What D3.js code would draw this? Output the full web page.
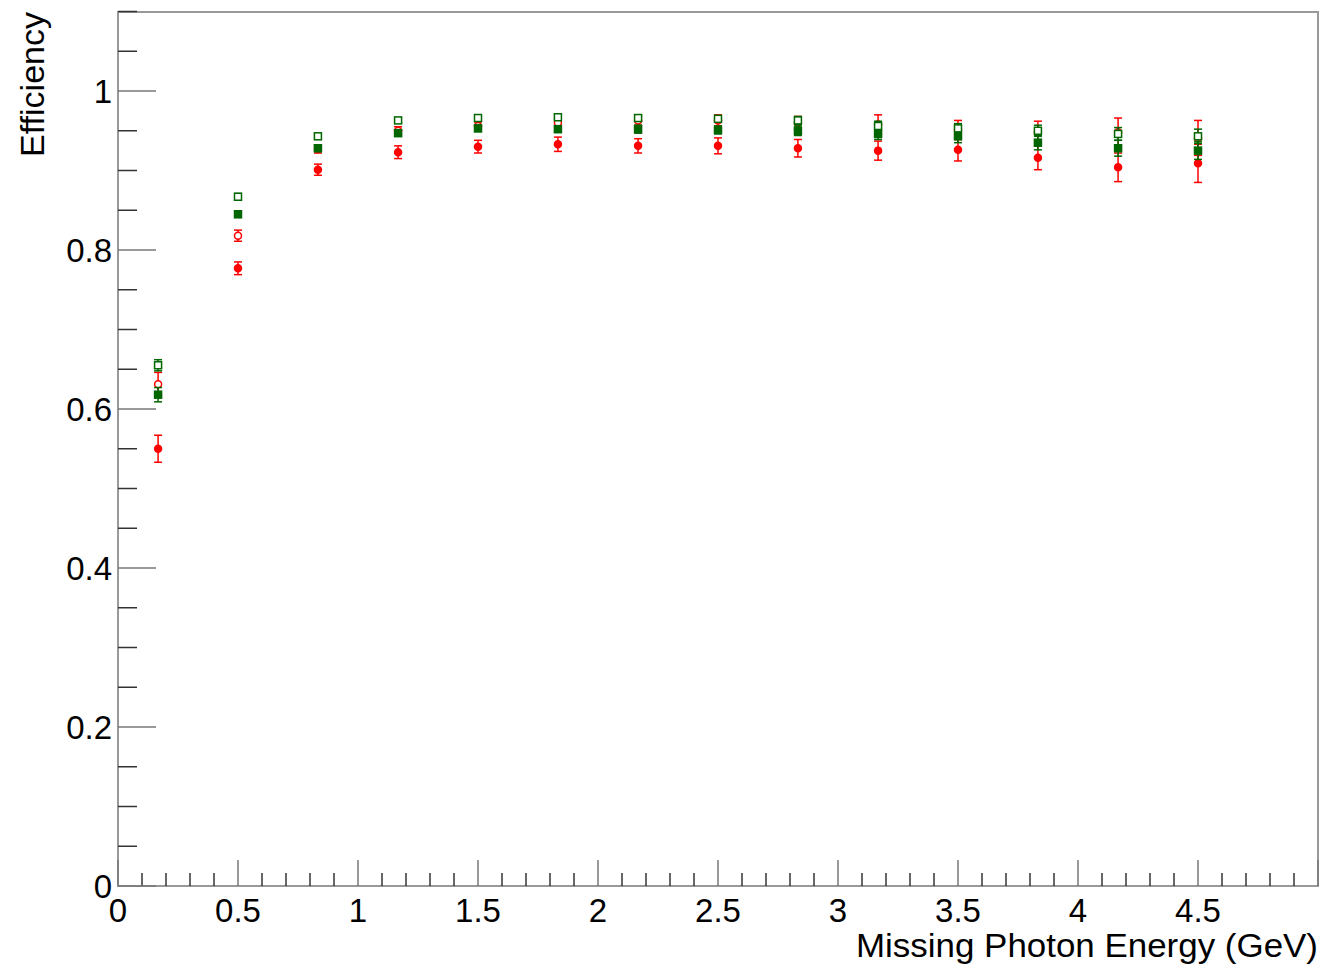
<!DOCTYPE html>
<html><head><meta charset="utf-8">
<script src="https://cdn.jsdelivr.net/npm/d3@7"></script>
<style>body{margin:0;background:#fff}text{font-family:"Liberation Sans",Arial,sans-serif}</style>
</head><body><svg id="c" width="1321" height="964"></svg>
<script>
var xs = [0.167,0.5,0.833,1.167,1.5,1.833,2.167,2.5,2.833,3.167,3.5,3.833,4.167,4.5];
var redFilled = [0.550,0.777,0.901,0.923,0.930,0.933,0.931,0.931,0.928,0.925,0.926,0.916,0.904,0.909];
var redFilledErr = [0.017,0.008,0.007,0.008,0.008,0.009,0.009,0.01,0.011,0.012,0.014,0.015,0.018,0.024];
var redOpen = [0.631,0.818,0.927,0.950,0.956,0.960,0.963,0.963,0.960,0.958,0.951,0.948,0.948,0.941];
var redOpenErr = [0.015,0.007,0.005,0.005,0.005,0.006,0.006,0.007,0.008,0.012,0.012,0.014,0.018,0.022];
var greenFilled = [0.618,0.845,0.928,0.947,0.953,0.952,0.952,0.951,0.950,0.946,0.943,0.935,0.928,0.925];
var greenFilledErr = [0.009,0.004,0.004,0.004,0.004,0.004,0.005,0.005,0.006,0.007,0.008,0.009,0.01,0.011];
var greenOpen = [0.655,0.867,0.943,0.963,0.966,0.967,0.966,0.965,0.963,0.956,0.953,0.950,0.946,0.943];
var greenOpenErr = [0.007,0.004,0.003,0.003,0.003,0.003,0.004,0.004,0.005,0.006,0.006,0.007,0.008,0.009];

var svg = d3.select('#c');
var L = 118, R = 1318, T = 12, B = 886;
var x = d3.scaleLinear().domain([0, 5]).range([L, R]);
var y = d3.scaleLinear().domain([0, 1.1]).range([B, B - 1.1 * 795]);

svg.append('rect').attr('x', L).attr('y', T).attr('width', R - L).attr('height', B - T)
  .attr('fill', 'none').attr('stroke', '#999').attr('stroke-width', 2);

var g = svg.append('g');
d3.range(0, 5.001, 0.1).forEach(function(v, i) {
  var major = i % 5 === 0;
  g.append('line').attr('x1', x(v)).attr('x2', x(v)).attr('y1', B).attr('y2', B - (major ? 26 : 13))
    .attr('stroke', major ? '#777' : '#333').attr('stroke-width', 1.5);
});
d3.range(0, 1.1001, 0.05).forEach(function(v, i) {
  var major = i % 4 === 0;
  g.append('line').attr('x1', L).attr('x2', L + (major ? 38 : 19)).attr('y1', y(v)).attr('y2', y(v))
    .attr('stroke', major ? '#777' : '#333').attr('stroke-width', 1.5);
});
[0, 0.5, 1, 1.5, 2, 2.5, 3, 3.5, 4, 4.5].forEach(function(v) {
  svg.append('text').attr('x', x(v)).attr('y', B + 36).attr('text-anchor', 'middle')
    .attr('font-size', 33).text(v);
});
[0, 0.2, 0.4, 0.6, 0.8, 1].forEach(function(v) {
  svg.append('text').attr('x', L - 6).attr('y', y(v) + 12).attr('text-anchor', 'end')
    .attr('font-size', 33).text(v);
});
svg.append('text').attr('x', R).attr('y', 957).attr('text-anchor', 'end').attr('font-size', 34)
  .attr('textLength', 462).attr('lengthAdjust', 'spacingAndGlyphs')
  .text('Missing Photon Energy (GeV)');
svg.append('text').attr('transform', 'translate(44,12) rotate(-90)').attr('text-anchor', 'end')
  .attr('font-size', 34).text('Efficiency');

function series(vals, errs, color, filled, shape) {
  var s = svg.append('g');
  vals.forEach(function(v, i) {
    var cx = x(xs[i]), lo = y(v - errs[i]), hi = y(v + errs[i]);
    s.append('line').attr('x1', cx).attr('x2', cx).attr('y1', lo).attr('y2', hi).attr('stroke', color).attr('stroke-width', 1.5);
    [lo, hi].forEach(function(e) {
      s.append('line').attr('x1', cx - 4).attr('x2', cx + 4).attr('y1', e).attr('y2', e).attr('stroke', color).attr('stroke-width', 1.5);
    });
    var m = shape === 'circle'
      ? s.append('circle').attr('cx', cx).attr('cy', y(v)).attr('r', 3.5)
      : s.append('rect').attr('x', cx - 3.5).attr('y', y(v) - 3.5).attr('width', 7).attr('height', 7);
    m.attr('fill', filled ? color : '#fff').attr('stroke', color).attr('stroke-width', 1.5);
  });
}
series(redFilled, redFilledErr, '#f00', true, 'circle');
series(redOpen, redOpenErr, '#f00', false, 'circle');
series(greenFilled, greenFilledErr, '#060', true, 'square');
series(greenOpen, greenOpenErr, '#060', false, 'square');
</script></body></html>
